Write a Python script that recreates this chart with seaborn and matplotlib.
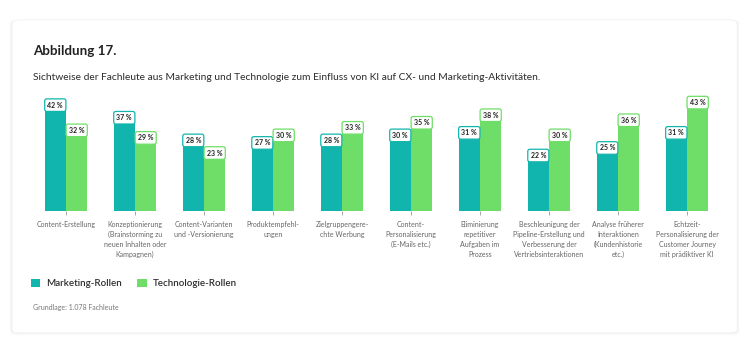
import numpy as np
import pandas as pd
import seaborn as sns
import matplotlib.pyplot as plt
from matplotlib.patches import FancyBboxPatch

# Daten aus der Abbildung
kategorien = [
    "Content-Erstellung",
    "Konzeptionierung\n(Brainstorming zu\nneuen Inhalten oder\nKampagnen)",
    "Content-Varianten\nund -Versionierung",
    "Produktempfehl-\nungen",
    "Zielgruppengere-\nchte Werbung",
    "Content-\nPersonalisierung\n(E-Mails etc.)",
    "Eliminierung\nrepetitiver\nAufgaben im\nProzess",
    "Beschleunigung der\nPipeline-Erstellung und\nVerbesserung der\nVertriebsinteraktionen",
    "Analyse früherer\nInteraktionen\n(Kundenhistorie\netc.)",
    "Echtzeit-\nPersonalisierung der\nCustomer Journey\nmit prädiktiver KI",
]
marketing = [42, 37, 28, 27, 28, 30, 31, 22, 25, 31]
technologie = [32, 29, 23, 30, 33, 35, 38, 30, 36, 43]
gruppen = ["Marketing-Rollen", "Technologie-Rollen"]

teal = "#12B5AD"
gruen = "#6FDE68"

df = pd.DataFrame({
    "Kategorie": kategorien * 2,
    "Gruppe": [gruppen[0]] * len(kategorien) + [gruppen[1]] * len(kategorien),
    "Wert": marketing + technologie,
})

sns.set_style("white")
plt.rcParams["font.family"] = ["Lato", "DejaVu Sans"]

fig = plt.figure(figsize=(7.5, 3.53), dpi=100)

# Karte mit leichtem Schatten
for i, a in enumerate([0.02, 0.015, 0.01]):
    off = (i + 1) * 0.0025
    fig.patches.append(FancyBboxPatch((0.016 - off / 2, 0.0567 - off), 0.967 + off, 0.887 + off,
                                      boxstyle="round,pad=0,rounding_size=0.01",
                                      transform=fig.transFigure, facecolor="black",
                                      edgecolor="none", alpha=a, zorder=-3))
fig.patches.append(FancyBboxPatch((0.016, 0.0567), 0.967, 0.887,
                                  boxstyle="round,pad=0,rounding_size=0.01",
                                  transform=fig.transFigure, facecolor="white",
                                  edgecolor="#f0f0f0", linewidth=0.6, zorder=-2))

ax = fig.add_axes([0.042, 0.4023, 0.92, 0.3213])
ax.patch.set_alpha(0)
sns.barplot(data=df, x="Kategorie", y="Wert", hue="Gruppe", palette=[teal, gruen],
            width=0.62, gap=0, saturation=1, linewidth=0, ax=ax, legend=True)

ax.set_ylim(0, 45)
ax.set_xlim(-0.5, 9.5)
ax.set_xlabel("")
ax.set_ylabel("")
ax.set_yticks([])
for s in ax.spines.values():
    s.set_visible(False)
ax.tick_params(axis="x", length=3, width=0.6, color="#999999", pad=4,
               labelsize=5.0, labelcolor="#666666", bottom=True)
for lbl in ax.get_xticklabels():
    lbl.set_linespacing(1.5)
    lbl.set_verticalalignment("top")

# Wertbeschriftungen
for cont, farbe in zip(ax.containers, [teal, gruen]):
    for bar in cont:
        h = bar.get_height()
        ax.text(bar.get_x() + bar.get_width() / 2, h, f"{int(h)} %",
                ha="center", va="center", fontsize=5.0, fontweight="bold", color="#222222",
                bbox=dict(boxstyle="round,pad=0.4,rounding_size=0.3", facecolor="white",
                          edgecolor=farbe, linewidth=0.9), zorder=5)

sns.move_legend(ax, "upper left", bbox_to_anchor=(0.029, 0.235),
                bbox_transform=fig.transFigure, ncol=2, frameon=False, title=None,
                fontsize=7.0, handlelength=1.0, handleheight=1.0, columnspacing=1.6,
                handletextpad=0.6)
for t in ax.get_legend().get_texts():
    t.set_color("#2c2c2c")
    t.set_fontweight("semibold")

fig.text(0.044, 0.845, "Abbildung 17.", fontsize=9.6, fontweight="bold", color="#222222",
         va="baseline")
fig.text(0.044, 0.773,
         "Sichtweise der Fachleute aus Marketing und Technologie zum Einfluss von KI auf CX- und Marketing-Aktivitäten.",
         fontsize=7.35, color="#2c2c2c", va="baseline")
fig.text(0.044, 0.128, "Grundlage: 1.078 Fachleute", fontsize=5.0, color="#777777", va="center")

fig.savefig("out.png", dpi=100)
